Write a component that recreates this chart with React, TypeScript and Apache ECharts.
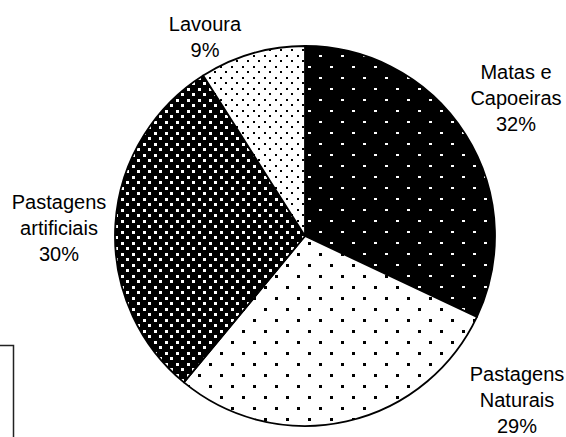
import React, { useEffect, useRef } from "react";
import * as echarts from "echarts";

// ---- data ----
const categories = ["Matas e\nCapoeiras", "Pastagens\nNaturais", "Pastagens\nartificiais", "Lavoura"];
const values = [32, 29, 30, 9];

// ---- layout (label anchor centres, in px) ----
const labelCenters: [number, number][] = [
  [516, 98],
  [517, 400],
  [59, 228],
  [205, 37],
];

type Dot = [number, number, number, number];

function makeTile(w: number, h: number, bg: string, fg: string, dots: Dot[]) {
  const c = document.createElement("canvas");
  c.width = w;
  c.height = h;
  const ctx = c.getContext("2d")!;
  ctx.fillStyle = bg;
  ctx.fillRect(0, 0, w, h);
  ctx.fillStyle = fg;
  dots.forEach(([x, y, dw, dh]) => ctx.fillRect(x, y, dw, dh));
  return { image: c, repeat: "repeat", imageWidth: w, imageHeight: h } as any;
}

function denseDots(s: number): Dot[] {
  return [
    [0, 0, s, s],
    [11, 0, s, s],
    [5, 5, s, s],
    [16, 5, s, s],
    [0, 11, s, s],
    [11, 11, s, s],
    [5, 16, s, s],
    [16, 16, s, s],
  ];
}

export default function App() {
  const ref = useRef<HTMLDivElement>(null);

  useEffect(() => {
    if (!ref.current) return;
    const chart = echarts.init(ref.current, undefined, { renderer: "svg" });

    const patterns = [
      makeTile(22, 22, "#000000", "#ffffff", [
        [0, 0, 3, 2],
        [11, 11, 3, 2],
      ]),
      makeTile(22, 22, "#ffffff", "#000000", [
        [0, 0, 3, 3],
        [11, 11, 3, 3],
      ]),
      makeTile(22, 22, "#000000", "#ffffff", denseDots(3)),
      makeTile(22, 22, "#ffffff", "#000000", denseDots(2)),
    ];

    chart.setOption({
      animation: false,
      backgroundColor: "#ffffff",
      graphic: [
        {
          type: "polyline",
          shape: { points: [[0, 345.5], [13.5, 345.5], [13.5, 440]] },
          style: { stroke: "#222222", lineWidth: 1.5, fill: "none" },
          silent: true,
        },
      ],
      series: [
        {
          type: "pie",
          center: [305, 236],
          radius: 190,
          startAngle: 90,
          clockwise: true,
          percentPrecision: 0,
          avoidLabelOverlap: false,
          emphasis: { disabled: true },
          itemStyle: { borderColor: "#000000", borderWidth: 1.8 },
          label: {
            show: true,
            position: "outside",
            formatter: "{b}\n{d}%",
            color: "#000000",
            fontFamily: "Liberation Sans, Arial, sans-serif",
            fontSize: 20,
            lineHeight: 26,
            align: "center",
          },
          labelLine: { show: false },
          labelLayout: (params: any) => {
            const [x, y] = labelCenters[params.dataIndex];
            return { x, y, align: "center", verticalAlign: "middle" };
          },
          data: categories.map((name, i) => ({
            name,
            value: values[i],
            itemStyle: { color: patterns[i] },
          })),
        },
      ],
    });

    return () => chart.dispose();
  }, []);

  return (
    <div
      ref={ref}
      style={{ position: "absolute", left: 0, top: 0, width: 566, height: 437 }}
    />
  );
}
